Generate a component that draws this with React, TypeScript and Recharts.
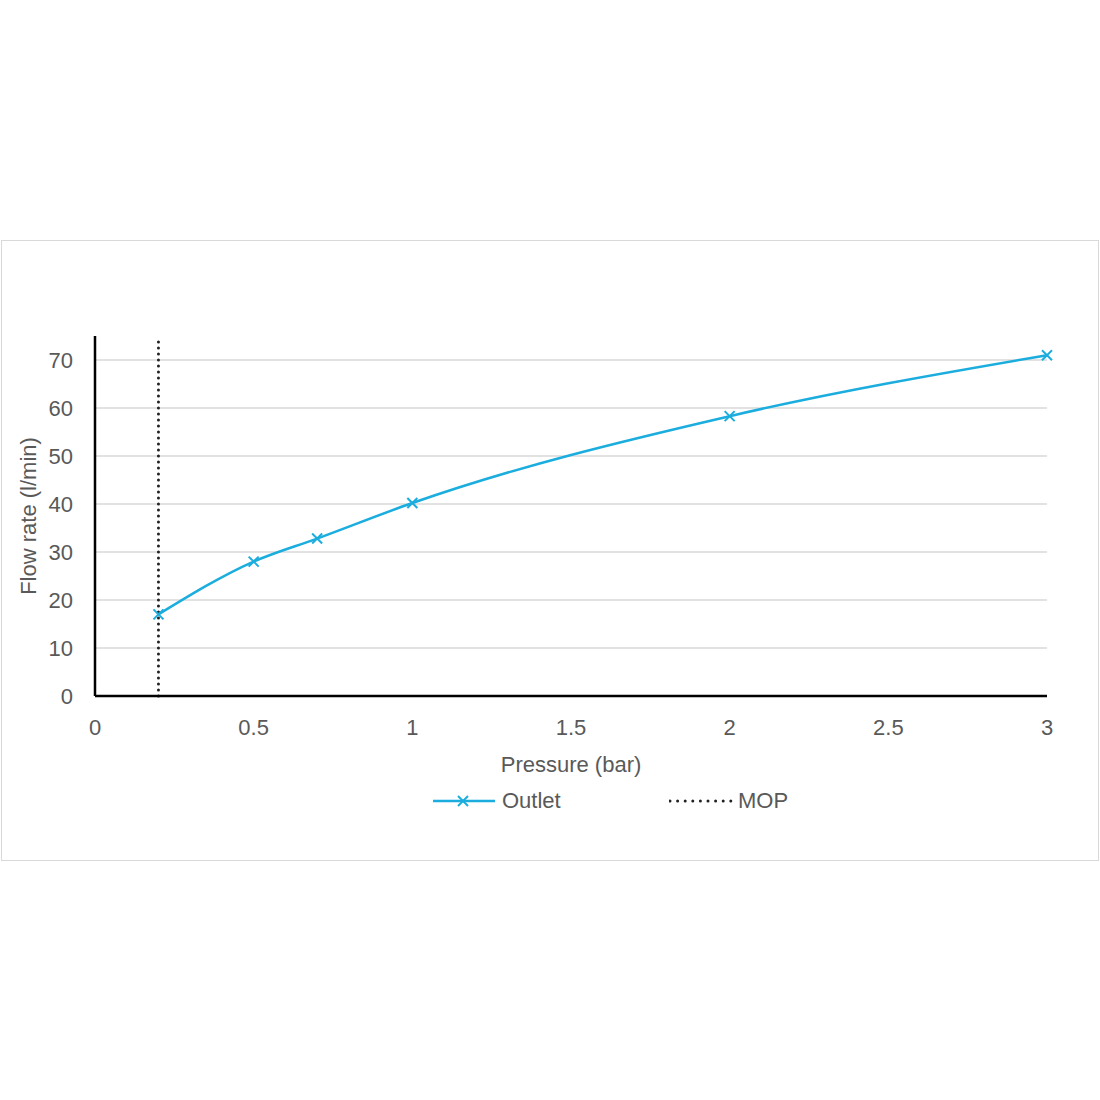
import React from 'react'
import {
  LineChart,
  Line,
  XAxis,
  YAxis,
  CartesianGrid,
  ReferenceLine,
  Legend,
} from 'recharts'

const pressure = [0.2, 0.5, 0.7, 1, 2, 3]
const outletFlow = [17, 28, 32.8, 40.2, 58.3, 71]
const mopPressure = 0.2
const xTicks = [0, 0.5, 1, 1.5, 2, 2.5, 3]
const yTicks = [0, 10, 20, 30, 40, 50, 60, 70]
const gridValues = [10, 20, 30, 40, 50, 60, 70]

const BLUE = '#1badde'
const TEXT = '#595959'
const FONT = '"Liberation Sans", Arial, sans-serif'
const FS = 22

const chartData = pressure.map((p, i) => ({ pressure: p, outlet: outletFlow[i] }))

function CrossDot(props: any) {
  const { cx, cy } = props
  if (cx == null || cy == null) return null
  const s = 5
  return (
    <g stroke={BLUE} strokeWidth={2}>
      <line x1={cx - s} y1={cy - s} x2={cx + s} y2={cy + s} />
      <line x1={cx - s} y1={cy + s} x2={cx + s} y2={cy - s} />
    </g>
  )
}

function LegendContent() {
  return (
    <div style={{ position: 'relative', height: 24, fontFamily: FONT, fontSize: FS, color: TEXT }}>
      <svg width={64} height={24} style={{ position: 'absolute', left: 433, top: 0 }}>
        <line x1={0} y1={12} x2={62} y2={12} stroke={BLUE} strokeWidth={2.5} />
        <line x1={25} y1={7} x2={35} y2={17} stroke={BLUE} strokeWidth={2} />
        <line x1={25} y1={17} x2={35} y2={7} stroke={BLUE} strokeWidth={2} />
      </svg>
      <span style={{ position: 'absolute', left: 502, top: 0, lineHeight: '24px' }}>Outlet</span>
      <svg width={64} height={24} style={{ position: 'absolute', left: 669, top: 0 }}>
        <line x1={1} y1={12} x2={62} y2={12} stroke="#222" strokeWidth={3} strokeDasharray="0 7.6" strokeLinecap="round" />
      </svg>
      <span style={{ position: 'absolute', left: 738, top: 0, lineHeight: '24px' }}>MOP</span>
    </div>
  )
}

export default function App() {
  return (
    <div style={{ position: 'absolute', left: 0, top: 0, width: 1100, height: 1100, background: '#fff' }}>
      <div
        style={{
          position: 'absolute',
          left: 1,
          top: 240,
          width: 1096,
          height: 619,
          border: '1px solid #d9d9d9',
        }}
      />
      <div style={{ position: 'absolute', left: 0, top: 0 }}>
        <LineChart
          width={1100}
          height={1100}
          data={chartData}
          margin={{ top: 336, right: 53, bottom: 300, left: 10 }}
        >
          <CartesianGrid vertical={false} stroke="#d9d9d9" strokeWidth={1.5} horizontalValues={gridValues} />
          <XAxis
            dataKey="pressure"
            type="number"
            domain={[0, 3]}
            ticks={xTicks}
            height={80}
            tickSize={0}
            tickMargin={23}
            axisLine={{ stroke: '#000', strokeWidth: 2.5 }}
            tick={{ fill: TEXT, fontSize: FS, fontFamily: FONT }}
            label={{
              value: 'Pressure (bar)',
              position: 'insideBottom',
              offset: 4,
              fill: TEXT,
              fontSize: FS,
              fontFamily: FONT,
            }}
          />
          <YAxis
            type="number"
            domain={[0, 75]}
            ticks={yTicks}
            width={85}
            tickSize={0}
            tickMargin={22}
            axisLine={{ stroke: '#000', strokeWidth: 2.5 }}
            tick={{ fill: TEXT, fontSize: FS, fontFamily: FONT }}
            label={{
              value: 'Flow rate (l/min)',
              angle: -90,
              position: 'insideLeft',
              offset: 18,
              fill: TEXT,
              fontSize: FS,
              fontFamily: FONT,
              style: { textAnchor: 'middle' },
            }}
          />
          <ReferenceLine
            x={mopPressure}
            stroke="#222"
            strokeWidth={3}
            strokeDasharray="0 6"
            strokeLinecap="round"
          />
          <Line
            type="monotone"
            dataKey="outlet"
            stroke={BLUE}
            strokeWidth={2.5}
            dot={<CrossDot />}
            activeDot={false}
            isAnimationActive={false}
          />
          <Legend
            content={<LegendContent />}
            wrapperStyle={{ position: 'absolute', left: 0, top: 789, width: 1100 }}
          />
        </LineChart>
      </div>
    </div>
  )
}
